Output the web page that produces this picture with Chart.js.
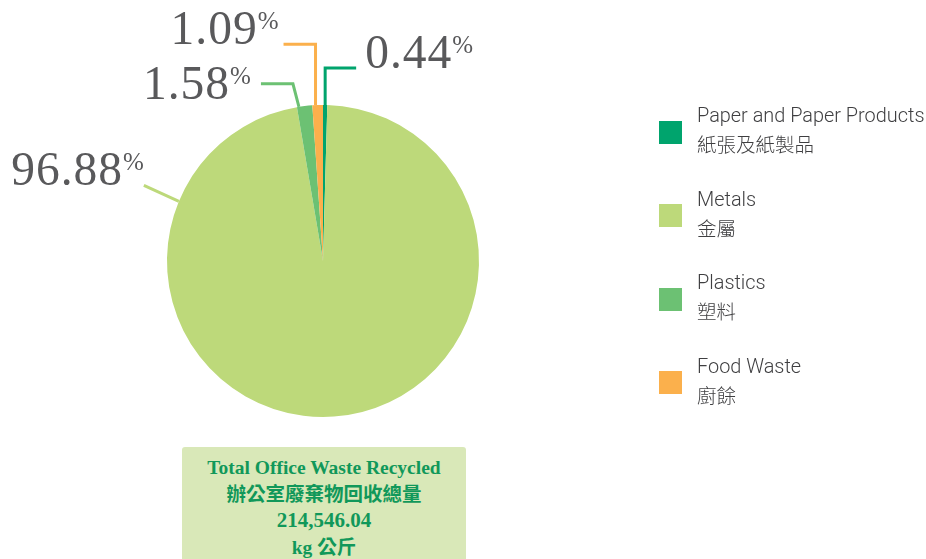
<!DOCTYPE html>
<html>
<head>
<meta charset="utf-8">
<script src="https://cdn.jsdelivr.net/npm/chart.js@4/dist/chart.umd.min.js"></script>
<style>
  html, body { margin:0; padding:0; background:#fff; width:926px; height:559px; overflow:hidden; }
  #wrap { position:relative; width:926px; height:559px; }
  #c { position:absolute; left:0; top:0; }
  #legend { position:absolute; left:659px; top:102px; font-family:Roboto, "Noto Sans CJK TC", sans-serif; font-weight:300; color:#3f3f41; }
  .item { display:flex; align-items:center; height:56px; margin-bottom:27.5px; }
  .sw { width:23px; height:23px; margin-right:15px; flex:none; position:relative; top:2px; }
  .txt { font-size:19.9px; line-height:28px; white-space:nowrap; }
  .zh { font-family:"Noto Sans CJK TC", sans-serif; font-weight:300; font-size:19.5px; }
  #box { position:absolute; left:182px; top:447px; width:284px; height:130px; background:#d9e8b8; border-radius:3px;
         color:#11985a; text-align:center; padding-top:9px; box-sizing:border-box; }
  #box div { line-height:24px; white-space:nowrap; }
  .en { font-family:"Liberation Serif", serif; font-weight:bold; font-size:19.5px; }
  .num { font-family:"Liberation Serif", serif; font-weight:bold; font-size:21px; }
  .cn { font-family:"Noto Sans CJK TC", sans-serif; font-weight:bold; font-size:19.5px; }
</style>
</head>
<body>
<div id="wrap">
  <canvas id="c" width="926" height="559"></canvas>
  <div id="legend"></div>
  <div id="box"></div>
</div>
<script>
// ---- data ----
const categories = ['Paper and Paper Products', 'Metals', 'Plastics', 'Food Waste'];
const categoriesZh = ['紙張及紙製品', '金屬', '塑料', '廚餘'];
const percentages = [0.44, 96.88, 1.58, 1.09];
const colors = ['#00a46d', '#bdd97a', '#6cc173', '#fbb04c'];
const totalTitleEn = 'Total Office Waste Recycled';
const totalTitleZh = '辦公室廢棄物回收總量';
const totalValue = '214,546.04';
const totalUnitEn = 'kg';
const totalUnitZh = '公斤';

// ---- label layout (leader line offsets from the anchor point on the slice edge) ----
const labelLayout = [
  { frac: 0.5,   pts: [[0, -37], [31, -37]],  side: 'left',  tx: 9,   ty: 0 },
  { frac: 0.834, pts: [[-35, -16]],           side: 'right', tx: 0,   ty: 0 },
  { frac: 0.13,  pts: [[-6, -23], [-38, -23]], side: 'right', tx: -10, ty: 15 },
  { frac: 0.3,   pts: [[0, -61], [-32, -61]], side: 'right', tx: -5,  ty: 0 }
];

const pieLabels = {
  id: 'pieLabels',
  afterDatasetsDraw(chart) {
    const ctx = chart.ctx;
    const meta = chart.getDatasetMeta(0);
    const ds = chart.data.datasets[0];
    meta.data.forEach((arc, i) => {
      const L = labelLayout[i];
      const a = arc.startAngle + (arc.endAngle - arc.startAngle) * L.frac;
      const ax = arc.x + Math.cos(a) * arc.outerRadius;
      const ay = arc.y + Math.sin(a) * arc.outerRadius;
      ctx.save();
      ctx.strokeStyle = ds.backgroundColor[i];
      ctx.lineWidth = 3;
      ctx.lineCap = 'butt';
      ctx.lineJoin = 'miter';
      ctx.beginPath();
      ctx.moveTo(ax, ay);
      let ex = ax, ey = ay;
      L.pts.forEach(p => { ex = ax + p[0]; ey = ay + p[1]; ctx.lineTo(ex, ey); });
      ctx.stroke();

      const num = ds.data[i].toFixed(2);
      const bigSize = 47.5, smallSize = 25, gap = 0;
      ctx.fillStyle = '#59595b';
      ctx.textBaseline = 'alphabetic';
      ctx.textAlign = 'left';
      if ('letterSpacing' in ctx) ctx.letterSpacing = '1px';
      ctx.font = bigSize + 'px "Liberation Serif", serif';
      const w1 = ctx.measureText(num).width;
      if ('letterSpacing' in ctx) ctx.letterSpacing = '0px';
      ctx.font = smallSize + 'px "Liberation Serif", serif';
      const w2 = ctx.measureText('%').width;
      const base = ey + L.ty;
      let sx = ex + L.tx;
      if (L.side === 'right') sx = sx - (w1 + gap + w2);
      if ('letterSpacing' in ctx) ctx.letterSpacing = '1px';
      ctx.font = bigSize + 'px "Liberation Serif", serif';
      ctx.fillText(num, sx, base);
      if ('letterSpacing' in ctx) ctx.letterSpacing = '0px';
      ctx.font = smallSize + 'px "Liberation Serif", serif';
      ctx.fillText('%', sx + w1 + gap, base - 0.66 * (bigSize - smallSize));
      ctx.restore();
    });
  }
};

new Chart(document.getElementById('c'), {
  type: 'pie',
  data: {
    labels: categories,
    datasets: [{
      data: percentages,
      backgroundColor: colors,
      borderWidth: 0,
      hoverOffset: 0,
      offset: 0
    }]
  },
  options: {
    responsive: false,
    maintainAspectRatio: false,
    devicePixelRatio: 1,
    animation: false,
    events: [],
    layout: { padding: { left: 167, top: 105, right: 447, bottom: 142 } },
    plugins: { legend: { display: false }, tooltip: { enabled: false } }
  },
  plugins: [pieLabels]
});

// ---- legend ----
const legend = document.getElementById('legend');
categories.forEach((c, i) => {
  const item = document.createElement('div');
  item.className = 'item';
  const sw = document.createElement('div');
  sw.className = 'sw';
  sw.style.background = colors[i];
  const txt = document.createElement('div');
  txt.className = 'txt';
  const l1 = document.createElement('div'); l1.textContent = c;
  const l2 = document.createElement('div'); l2.className = 'zh'; l2.textContent = categoriesZh[i];
  txt.appendChild(l1); txt.appendChild(l2);
  item.appendChild(sw); item.appendChild(txt);
  legend.appendChild(item);
});

// ---- total box ----
const box = document.getElementById('box');
function addLine(parts) {
  const d = document.createElement('div');
  parts.forEach(([t, cls]) => {
    const s = document.createElement('span');
    s.className = cls;
    s.textContent = t;
    d.appendChild(s);
  });
  box.appendChild(d);
}
addLine([[totalTitleEn, 'en']]);
addLine([[totalTitleZh, 'cn']]);
addLine([[totalValue, 'num']]);
addLine([[totalUnitEn + ' ', 'en'], [totalUnitZh, 'cn']]);
</script>
</body>
</html>
